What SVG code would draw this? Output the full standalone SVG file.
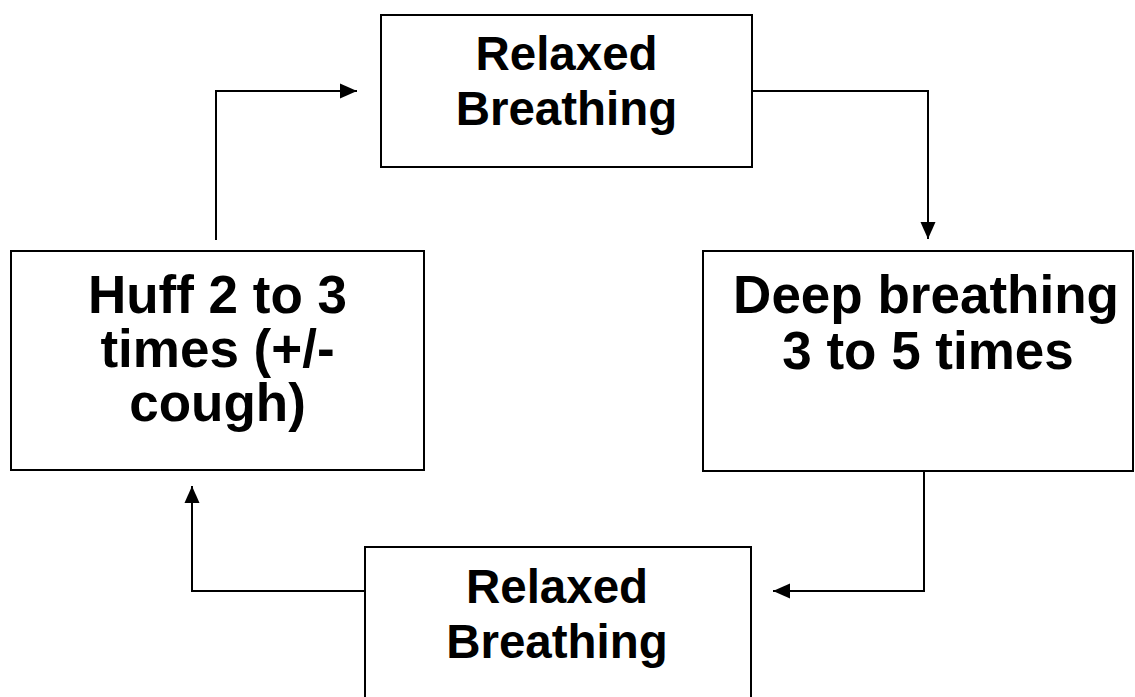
<svg xmlns="http://www.w3.org/2000/svg" width="1135" height="697" viewBox="0 0 1135 697">
  <style>
    .box { fill: #ffffff; stroke: #000000; stroke-width: 2; }
    .label { font-family: "Liberation Sans", Arial, sans-serif; font-weight: bold; fill: #000000; text-anchor: middle; }
    .small { font-size: 47.5px; }
    .large { font-size: 53px; }
    .link { fill: none; stroke: #000000; stroke-width: 2; marker-end: url(#head); }
  </style>
  <defs>
    <marker id="head" markerUnits="userSpaceOnUse" markerWidth="17" markerHeight="16" viewBox="0 0 17 16" refX="17" refY="8" orient="auto">
      <path d="M0,0.5 L17,8 L0,15.5 Z" fill="#000000"/>
    </marker>
  </defs>
  <rect width="1135" height="697" fill="#ffffff"/>

  <!-- connectors -->
  <g id="connectors">
    <path class="link" d="M216,240 V91 H357"/>
    <path class="link" d="M752,91 H928 V239"/>
    <path class="link" d="M924,471 V591 H773"/>
    <path class="link" d="M365,591 H192 V486"/>
  </g>

  <g id="relaxed-top">
    <rect class="box" x="381" y="15" width="371" height="152"/>
    <text class="label small" x="566.5" y="70">Relaxed</text>
    <text class="label small" x="566.5" y="125">Breathing</text>
  </g>

  <g id="deep-breathing">
    <rect class="box" x="703" y="251" width="430" height="220"/>
    <text class="label large" x="926" y="313">Deep breathing</text>
    <text class="label large" x="928" y="369">3 to 5 times</text>
  </g>

  <g id="relaxed-bottom">
    <rect class="box" x="365" y="547" width="386" height="170"/>
    <text class="label small" x="557" y="603">Relaxed</text>
    <text class="label small" x="557" y="658">Breathing</text>
  </g>

  <g id="huff">
    <rect class="box" x="11" y="251" width="413" height="219"/>
    <text class="label large" x="217.5" y="313">Huff 2 to 3</text>
    <text class="label large" x="217.5" y="367">times (+/-</text>
    <text class="label large" x="217.5" y="421">cough)</text>
  </g>
</svg>
